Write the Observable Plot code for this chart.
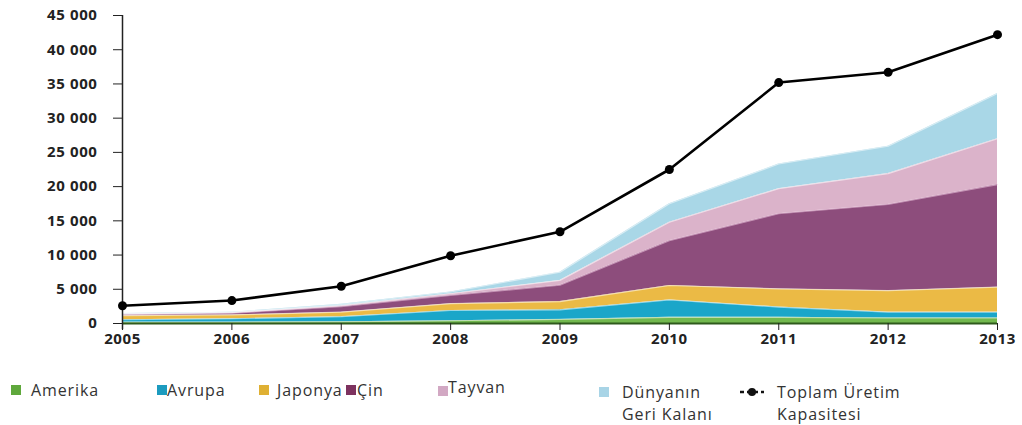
<!DOCTYPE html>
<html>
<head>
<meta charset="utf-8">
<script src="https://cdn.jsdelivr.net/npm/d3@7"></script>
<script src="https://cdn.jsdelivr.net/npm/@observablehq/plot@0.6"></script>
<style>
  html, body { margin: 0; padding: 0; background: #fff; }
  #wrap { position: relative; width: 1022px; height: 425px; overflow: hidden; }
  #chart svg { display: block; }
  #chart svg text { letter-spacing: 0.6px; }
  .lg { position: absolute; font-family: "Open Sans", sans-serif; font-size: 16px; color: #333; letter-spacing: 0.9px; line-height: 22px; white-space: nowrap; }
  .sw { position: absolute; width: 10px; height: 10px; }
</style>
</head>
<body>
<div id="wrap">
  <div id="chart"></div>
</div>
<script>
const years   = [2005, 2006, 2007, 2008, 2009, 2010, 2011, 2012, 2013];
const seriesNames = ["Amerika", "Avrupa", "Japonya", "Çin", "Tayvan", "Dünyanın Geri Kalanı"];
const amerika = [200, 200, 250, 400, 600, 900, 900, 800, 800];
const avrupa  = [350, 500, 750, 1500, 1400, 2550, 1500, 850, 850];
const japonya = [600, 550, 650, 1000, 1200, 2100, 2650, 3150, 3650];
const cin     = [150, 250, 800, 1200, 2400, 6550, 11000, 12600, 15000];
const tayvan  = [80, 80, 150, 250, 700, 2700, 3650, 4500, 6700];
const dunya   = [70, 70, 200, 250, 1200, 2700, 3600, 4000, 6600];
const toplam  = [2600, 3350, 5450, 9900, 13400, 22500, 35200, 36700, 42200];
const yTicks  = [0, 5000, 10000, 15000, 20000, 25000, 30000, 35000, 40000, 45000];
const fills   = ["#72b84e", "#1aa6c9", "#ebba45", "#8d4d7c", "#dbb3ca", "#a9d7e7"];
const legendFills = ["#5fa83c", "#1c9bbf", "#dfb033", "#7d325f", "#d2a8c3", "#a8d4e6"];

const seriesValues = [amerika, avrupa, japonya, cin, tayvan, dunya];
const stacked = [];
seriesNames.forEach((s, i) => years.forEach((y, j) => stacked.push({year: y, series: s, value: seriesValues[i][j]})));
const totals = years.map((y, j) => ({year: y, value: toplam[j]}));
const fmt = d => d3.format(",")(d).replace(/,/g, " ");

const chart = Plot.plot({
  width: 1022,
  height: 352,
  marginLeft: 122,
  marginRight: 25,
  marginTop: 15,
  marginBottom: 29,
  style: {fontFamily: "'Open Sans', sans-serif", fontSize: "15px", fontWeight: "bold", color: "#222"},
  x: {domain: [2005, 2013]},
  y: {domain: [0, 45000]},
  color: {domain: seriesNames, range: fills},
  marks: [
    Plot.areaY(stacked, {x: "year", y: "value", fill: "series", z: "series", order: seriesNames}),
    Plot.lineY(stacked, Plot.stackY2({x: "year", y: "value", z: "series", order: seriesNames,
      stroke: d => d.series === "Çin" ? "#f4d0e6" : "#ffffff", strokeOpacity: 0.55, strokeWidth: 1.2})),
    Plot.ruleY([0], {stroke: "#2f5a1c", strokeWidth: 2}),
    Plot.ruleX([2005], {y1: -900, y2: 45000, stroke: "#222", strokeWidth: 1.5}),
    Plot.axisY({ticks: yTicks, tickFormat: fmt, tickSize: 9, tickPadding: 16, tickWidth: 1.5, stroke: "#222", label: null}),
    Plot.axisX({ticks: years, tickFormat: d => String(d), tickSize: 7, tickPadding: 3, label: null, stroke: "#222"}),
    Plot.line(totals, {x: "year", y: "value", stroke: "#000", strokeWidth: 2.6}),
    Plot.dot(totals, {x: "year", y: "value", r: 4.5, fill: "#000"})
  ]
});
document.getElementById("chart").appendChild(chart);

// Legend
const wrap = document.getElementById("wrap");
function sw(x, y, c) { const d = document.createElement("div"); d.className = "sw"; d.style.left = x + "px"; d.style.top = y + "px"; d.style.background = c; wrap.appendChild(d); }
function txt(x, y, t) { const d = document.createElement("div"); d.className = "lg"; d.style.left = x + "px"; d.style.top = y + "px"; d.innerHTML = t; wrap.appendChild(d); }
const legendPos = [
  {sx: 11, sy: 385, tx: 31, ty: 379},
  {sx: 157, sy: 385, tx: 167, ty: 379},
  {sx: 259, sy: 385, tx: 277, ty: 379},
  {sx: 346, sy: 385, tx: 357, ty: 379},
  {sx: 438, sy: 386, tx: 448, ty: 376},
  {sx: 599, sy: 387, tx: 622, ty: 381}
];
const legendLabels = ["Amerika", "Avrupa", "Japonya", "Çin", "Tayvan", "Dünyanın<br>Geri Kalanı"];
legendLabels.forEach((l, i) => { const p = legendPos[i]; sw(p.sx, p.sy, legendFills[i]); txt(p.tx, p.ty, l); });
// Total legend symbol
const ns = "http://www.w3.org/2000/svg";
const sym = document.createElementNS(ns, "svg");
sym.setAttribute("width", 26); sym.setAttribute("height", 12);
sym.style.position = "absolute"; sym.style.left = "739px"; sym.style.top = "386px";
sym.innerHTML = '<line x1="1" y1="6" x2="25" y2="6" stroke="#111" stroke-width="2.4" stroke-dasharray="4 3"/><circle cx="13" cy="6" r="4" fill="#111"/>';
wrap.appendChild(sym);
txt(777, 381, "Toplam Üretim<br>Kapasitesi");
</script>
</body>
</html>
